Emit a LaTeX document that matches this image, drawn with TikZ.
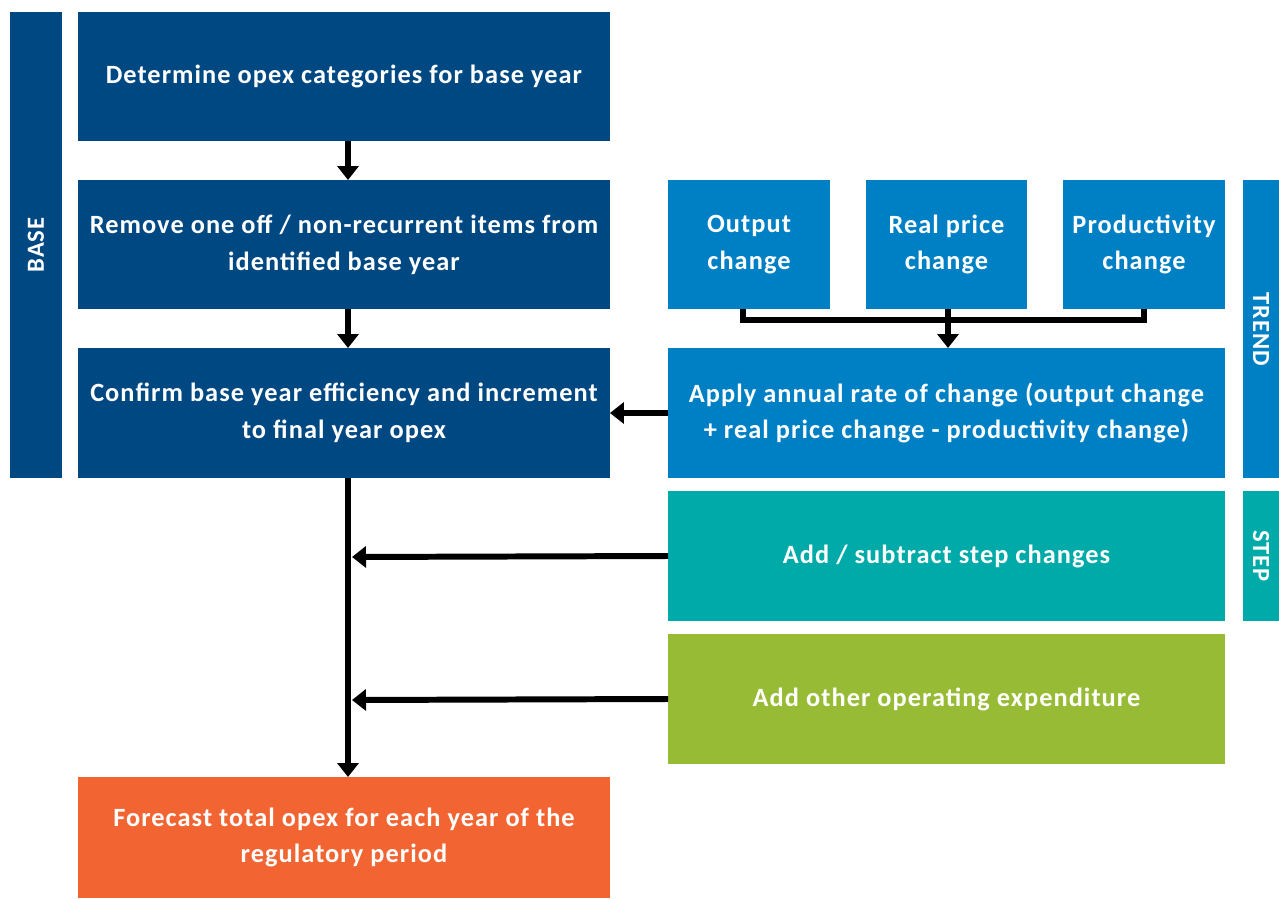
\documentclass[tikz,border=0pt]{standalone}
\usepackage{fontspec}
\setmainfont{Carlito}[LetterSpace=4]
\usetikzlibrary{arrows.meta}
\definecolor{navy}{RGB}{0,72,130}
\definecolor{midblue}{RGB}{0,128,196}
\definecolor{teal}{RGB}{0,170,168}
\definecolor{leaf}{RGB}{151,187,53}
\definecolor{flame}{RGB}{242,101,50}
\begin{document}
\begin{tikzpicture}[x=0.02cm,y=-0.02cm,
  block/.style={inner sep=0pt, outer sep=0pt, align=center, text=white,
    font=\bfseries\fontsize{15}{21}\selectfont},
  bar/.style={block, font=\bfseries\fontsize{14}{21}\selectfont},
  arr/.style={line width=3.4pt, -{Triangle[length=0.28cm,width=0.42cm]}},
  link/.style={line width=3.4pt}]
\useasboundingbox (0,0) rectangle (1279,899);

% base stage
\node[bar, fill=navy, minimum width=1.04cm, minimum height=9.32cm] (base) at (36,245)
  {\rotatebox{90}{BASE}};
\node[block, fill=navy, minimum width=10.64cm, minimum height=2.58cm] (cat) at (344,76.5)
  {Determine opex categories for base year};
\node[block, fill=navy, minimum width=10.64cm, minimum height=2.58cm] (rem) at (344,244.5)
  {Remove one off / non-recurrent items from\\identified base year};
\node[block, fill=navy, minimum width=10.64cm, minimum height=2.6cm] (conf) at (344,413)
  {Confirm base year efficiency and increment\\to final year opex};
\node[block, fill=flame, minimum width=10.64cm, minimum height=2.42cm] (fc) at (344,837.5)
  {Forecast total opex for each year of the\\regulatory period};

% trend stage
\node[block, fill=midblue, minimum width=3.24cm, minimum height=2.58cm] (out) at (749,244.5)
  {Output\\change};
\node[block, fill=midblue, minimum width=3.22cm, minimum height=2.58cm] (real) at (946.5,244.5)
  {Real price\\change};
\node[block, fill=midblue, minimum width=3.24cm, minimum height=2.58cm] (prod) at (1144,244.5)
  {Productivity\\change};
\node[block, fill=midblue, minimum width=11.14cm, minimum height=2.6cm] (rate) at (946.5,413)
  {Apply annual rate of change (output change\\+ real price change - productivity change)};
\node[bar, fill=midblue, minimum width=0.72cm, minimum height=5.96cm] (trend) at (1261,329)
  {\rotatebox{-90}{TREND}};

% step stage
\node[block, fill=teal, minimum width=11.14cm, minimum height=2.6cm] (step) at (946.5,556)
  {Add / subtract step changes};
\node[bar, fill=teal, minimum width=0.72cm, minimum height=2.6cm] (steplbl) at (1261,556)
  {\rotatebox{-90}{STEP}};

% other expenditure
\node[block, fill=leaf, minimum width=11.14cm, minimum height=2.6cm] (other) at (946.5,699)
  {Add other operating expenditure};

% connectors
\draw[arr] ([xshift=0.08cm]cat.south) -- ([xshift=0.08cm]rem.north);
\draw[arr] ([xshift=0.08cm]rem.south) -- ([xshift=0.08cm]conf.north);
\draw[arr] ([xshift=0.08cm]conf.south) -- ([xshift=0.08cm]fc.north);
\draw[arr] (rate.west) -- (conf.east);
\coordinate (j1) at (352,557);
\coordinate (j2) at (352,700);
\draw[arr] (step.west) -- (j1);
\draw[arr] (other.west) -- (j2);
\draw[link] ([xshift=-0.12cm]out.south) -- ++(0,11) -| (prod.south);
\draw[arr] ([xshift=0.03cm]real.south) -- ([xshift=0.03cm]real.south |- rate.north);
\end{tikzpicture}
\end{document}
